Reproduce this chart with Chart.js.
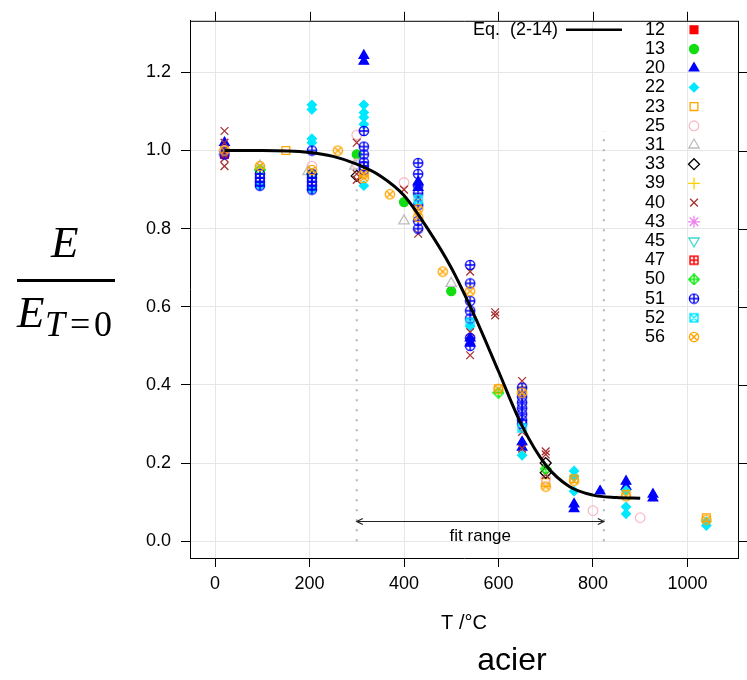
<!DOCTYPE html>
<html>
<head>
<meta charset="utf-8">
<script src="https://cdn.jsdelivr.net/npm/chart.js@4.4.0/dist/chart.umd.min.js"></script>
<style>
  html, body { margin: 0; padding: 0; background: #fff; }
  #wrap { width: 747px; height: 680px; }
</style>
</head>
<body>
<div id="wrap"><canvas id="chart" width="747" height="680"></canvas></div>
<script>
// readings [T (°C), E / E(T=0)] per test series
const s12 = [[20, 0.99]];
const s13 = [[300, 0.99], [400, 0.868], [500, 0.64]];
const s20 = [[20, 1.02], [20, 1.005], [315, 1.243], [315, 1.228], [430, 0.92], [430, 0.905],
  [540, 0.52], [540, 0.507], [650, 0.254], [650, 0.24], [760, 0.095], [760, 0.083],
  [815, 0.128], [870, 0.153], [870, 0.14], [927, 0.12], [927, 0.11]];
const s22 = [[95, 0.91], [205, 1.117], [205, 1.105], [205, 1.03], [205, 1.02], [205, 0.9],
  [315, 1.117], [315, 1.097], [315, 1.085], [315, 1.067], [315, 0.91], [540, 0.55],
  [650, 0.22], [760, 0.18], [760, 0.165], [760, 0.128], [870, 0.13], [870, 0.088],
  [870, 0.07], [1040, 0.04], [1040, 0.05]];
const s23 = [[20, 1.0], [150, 1.0], [600, 0.39], [650, 0.385], [700, 0.15], [760, 0.16],
  [870, 0.12], [1040, 0.06]];
const s25 = [[20, 1.0], [205, 0.96], [300, 1.04], [300, 0.966], [400, 0.918], [700, 0.2],
  [700, 0.16], [800, 0.078], [900, 0.06]];
const s31 = [[95, 0.96], [197, 0.946], [296, 0.96], [400, 0.82], [500, 0.66]];
const s33 = [[300, 0.935], [700, 0.2], [700, 0.175]];
const s39 = [];
const s40 = [[20, 1.05], [20, 1.02], [20, 0.98], [20, 0.96], [300, 1.02], [300, 0.94],
  [300, 0.925], [400, 0.9], [430, 0.88], [430, 0.787], [540, 0.69], [540, 0.535],
  [540, 0.476], [593, 0.586], [593, 0.578], [650, 0.41], [650, 0.28], [650, 0.237],
  [700, 0.23], [700, 0.222], [700, 0.17]];
const s43 = [];
const s45 = [];
const s47 = [];
const s50 = [[95, 0.95], [205, 0.94], [600, 0.38], [700, 0.185]];
const s51 = [[20, 0.99], [95, 0.94], [95, 0.93], [95, 0.92], [95, 0.91], [205, 1.0],
  [205, 0.94], [205, 0.93], [205, 0.92], [205, 0.91], [205, 0.9], [315, 1.05], [315, 1.01],
  [315, 0.99], [315, 0.97], [315, 0.96], [315, 0.95], [430, 0.968], [430, 0.94], [430, 0.91],
  [430, 0.89], [430, 0.86], [430, 0.82], [430, 0.8], [540, 0.707], [540, 0.66], [540, 0.615],
  [540, 0.59], [540, 0.57], [540, 0.52], [540, 0.5], [650, 0.393], [650, 0.37], [650, 0.355],
  [650, 0.34], [650, 0.325], [650, 0.31], [650, 0.3]];
const s52 = [[430, 0.875], [540, 0.56], [650, 0.29]];
const s56 = [[20, 1.0], [95, 0.96], [205, 0.95], [260, 1.0], [315, 0.94], [315, 0.93],
  [370, 0.888], [430, 0.85], [430, 0.83], [482, 0.69], [540, 0.64], [600, 0.39], [650, 0.38],
  [700, 0.14], [760, 0.155], [870, 0.115], [1040, 0.055]];

// Eq. (2-14) curve
const curveT = [20, 100, 200, 250, 300, 350, 400, 450, 500, 550, 600, 650, 700, 750, 800, 850, 900];
const curveE = [1.0, 1.0, 0.995, 0.985, 0.965, 0.935, 0.885, 0.8, 0.7, 0.575, 0.435, 0.295, 0.195, 0.14, 0.118, 0.112, 0.11];

const xTicks = [0, 200, 400, 600, 800, 1000];
const yTicks = [0, 0.2, 0.4, 0.6, 0.8, 1.0, 1.2];
const fitRange = [300, 823];
const guideTop = 1.05;

function markerCanvas(kind, color) {
  const c = document.createElement('canvas');
  c.width = 12; c.height = 12;
  const g = c.getContext('2d');
  g.strokeStyle = color;
  g.lineWidth = 1.4;
  const m = 6, r = 4.6, h = 4;
  g.beginPath();
  if (kind === 'circlePlus') {
    g.arc(m, m, r, 0, 2 * Math.PI);
    g.moveTo(m - r, m); g.lineTo(m + r, m);
    g.moveTo(m, m - r); g.lineTo(m, m + r);
  } else if (kind === 'circleX') {
    const d = r * Math.SQRT1_2;
    g.arc(m, m, r, 0, 2 * Math.PI);
    g.moveTo(m - d, m - d); g.lineTo(m + d, m + d);
    g.moveTo(m - d, m + d); g.lineTo(m + d, m - d);
  } else if (kind === 'squarePlus') {
    g.rect(m - h, m - h, 2 * h, 2 * h);
    g.moveTo(m - h, m); g.lineTo(m + h, m);
    g.moveTo(m, m - h); g.lineTo(m, m + h);
  } else if (kind === 'squareX') {
    g.rect(m - h, m - h, 2 * h, 2 * h);
    g.moveTo(m - h, m - h); g.lineTo(m + h, m + h);
    g.moveTo(m - h, m + h); g.lineTo(m + h, m - h);
  } else if (kind === 'diamondPlus') {
    const q = 5.2;
    g.moveTo(m, m - q); g.lineTo(m + q, m); g.lineTo(m, m + q); g.lineTo(m - q, m); g.closePath();
    g.moveTo(m - q, m); g.lineTo(m + q, m);
    g.moveTo(m, m - q); g.lineTo(m, m + q);
  }
  g.stroke();
  return c;
}

const series = [
  { name: '12', data: s12, style: 'rect', color: '#ff0000', fill: true, r: 5.5 },
  { name: '13', data: s13, style: 'circle', color: '#11dd11', fill: true, r: 4.5 },
  { name: '20', data: s20, style: 'triangle', color: '#0000ff', fill: true, r: 5.5 },
  { name: '22', data: s22, style: 'rectRot', color: '#00e8ff', fill: true, r: 4.5 },
  { name: '23', data: s23, style: 'rect', color: '#ffa500', fill: false, r: 5.5 },
  { name: '25', data: s25, style: 'circle', color: '#f7bcc8', fill: false, r: 4.8 },
  { name: '31', data: s31, style: 'triangle', color: '#bdbdbd', fill: false, r: 6 },
  { name: '33', data: s33, style: 'rectRot', color: '#000000', fill: false, r: 5.5 },
  { name: '39', data: s39, style: 'cross', color: '#ffd000', fill: false, r: 6 },
  { name: '40', data: s40, style: 'crossRot', color: '#a83232', fill: false, r: 5.5 },
  { name: '43', data: s43, style: 'star', color: '#ee82ee', fill: false, r: 6 },
  { name: '45', data: s45, style: 'triangle', color: '#40d8d0', fill: false, r: 6, rot: 180 },
  { name: '47', data: s47, style: markerCanvas('squarePlus', '#ff0000'), color: '#ff0000' },
  { name: '50', data: s50, style: markerCanvas('diamondPlus', '#11ee11'), color: '#11ee11' },
  { name: '51', data: s51, style: markerCanvas('circlePlus', '#0000ff'), color: '#0000ff' },
  { name: '52', data: s52, style: markerCanvas('squareX', '#00e8ff'), color: '#00e8ff' },
  { name: '56', data: s56, style: markerCanvas('circleX', '#ffa500'), color: '#ffa500' }
];

const datasets = [{
  label: 'Eq. (2-14)',
  data: curveT.map((t, i) => ({ x: t, y: curveE[i] })),
  borderColor: '#000',
  borderWidth: 3,
  pointRadius: 0,
  cubicInterpolationMode: 'monotone',
  order: 0
}];

series.forEach((s, k) => {
  datasets.push({
    label: s.name,
    data: s.data.map(p => ({ x: p[0], y: p[1] })),
    showLine: false,
    pointStyle: s.style,
    pointRadius: s.r || 6,
    pointRotation: s.rot || 0,
    pointBackgroundColor: s.fill ? s.color : 'rgba(0,0,0,0)',
    pointBorderColor: s.color,
    pointBorderWidth: 1.3,
    order: 40 - k
  });
});

fitRange.forEach(t => {
  datasets.push({
    label: 'fit ' + t,
    data: [{ x: t, y: 0 }, { x: t, y: guideTop }],
    borderColor: '#a9b6c6',
    borderWidth: 2,
    borderDash: [2, 8],
    pointRadius: 0,
    order: 80
  });
});

const tickFont = { family: 'Liberation Sans, Arial, sans-serif', size: 18 };

const decor = {
  id: 'decor',
  afterDraw(chart) {
    const ctx = chart.ctx;
    const a = chart.chartArea;
    const xs = chart.scales.x, ys = chart.scales.y;
    ctx.save();

    // top / right frame with outward ticks
    ctx.strokeStyle = '#000';
    ctx.lineWidth = 1;
    ctx.beginPath();
    ctx.moveTo(a.left, a.top + 0.5); ctx.lineTo(a.right + 0.5, a.top + 0.5);
    ctx.moveTo(a.right + 0.5, a.top); ctx.lineTo(a.right + 0.5, a.bottom);
    xTicks.forEach(v => {
      const px = Math.round(xs.getPixelForValue(v)) + 0.5;
      ctx.moveTo(px, a.top); ctx.lineTo(px, a.top - 9);
    });
    yTicks.forEach(v => {
      const py = Math.round(ys.getPixelForValue(v)) + 0.5;
      ctx.moveTo(a.right, py); ctx.lineTo(a.right + 9, py);
    });
    ctx.stroke();

    // fit range arrow
    const x1 = xs.getPixelForValue(fitRange[0]), x2 = xs.getPixelForValue(fitRange[1]);
    const ay = Math.round(ys.getPixelForValue(0.052)) + 0.5;
    ctx.strokeStyle = '#222';
    ctx.lineWidth = 1.2;
    ctx.beginPath();
    ctx.moveTo(x1, ay); ctx.lineTo(x2, ay);
    ctx.moveTo(x1 + 6, ay - 3); ctx.lineTo(x1, ay); ctx.lineTo(x1 + 6, ay + 3);
    ctx.moveTo(x2 - 6, ay - 3); ctx.lineTo(x2, ay); ctx.lineTo(x2 - 6, ay + 3);
    ctx.stroke();
    ctx.fillStyle = '#000';
    ctx.font = '17px Liberation Sans, Arial, sans-serif';
    ctx.textAlign = 'center';
    ctx.textBaseline = 'middle';
    ctx.fillText('fit range', (x1 + x2) / 2, ys.getPixelForValue(0.012));

    // legend
    const rowH = 19.2, top = a.top + 9;
    ctx.font = '18px Liberation Sans, Arial, sans-serif';
    ctx.textAlign = 'right';
    ctx.fillText('Eq.  (2-14)', a.right - 180, top);
    ctx.strokeStyle = '#000';
    ctx.lineWidth = 2.5;
    ctx.beginPath();
    ctx.moveTo(a.right - 172, top); ctx.lineTo(a.right - 116, top);
    ctx.stroke();
    const drawPoint = Chart.helpers && Chart.helpers.drawPoint;
    series.forEach((s, i) => {
      const y = top + i * rowH;
      ctx.fillStyle = '#000';
      ctx.fillText(s.name, a.right - 73, y);
      const mx = a.right - 44;
      if (typeof s.style === 'object') {
        ctx.drawImage(s.style, mx - s.style.width / 2, y - s.style.height / 2);
      } else if (drawPoint) {
        ctx.fillStyle = s.fill ? s.color : 'rgba(0,0,0,0)';
        ctx.strokeStyle = s.color;
        ctx.lineWidth = 1.3;
        drawPoint(ctx, { pointStyle: s.style, radius: s.r, rotation: s.rot || 0, borderWidth: 1.3 }, mx, y);
      }
    });

    // axis titles
    ctx.fillStyle = '#000';
    ctx.textAlign = 'center';
    ctx.textBaseline = 'alphabetic';
    ctx.font = '20px Liberation Sans, Arial, sans-serif';
    ctx.fillText('T /°C', (a.left + a.right) / 2, 629);
    ctx.font = '32px Liberation Sans, Arial, sans-serif';
    ctx.fillText('acier', 512, 670);

    // E / E_{T=0}
    ctx.textAlign = 'left';
    ctx.font = 'italic 45px Liberation Serif, Times New Roman, serif';
    ctx.fillText('E', 51, 257);
    ctx.fillText('E', 17, 327);
    ctx.font = 'italic 36px Liberation Serif, Times New Roman, serif';
    ctx.fillText('T', 45, 336);
    ctx.font = '36px Liberation Serif, Times New Roman, serif';
    ctx.fillText('=', 70, 336);
    ctx.fillText('0', 94, 336);
    ctx.fillRect(17, 279, 98, 3);

    ctx.restore();
  }
};

new Chart(document.getElementById('chart').getContext('2d'), {
  type: 'line',
  data: { datasets: datasets },
  options: {
    responsive: false,
    animation: false,
    devicePixelRatio: 1,
    layout: { padding: { top: 12, right: 9, left: 0, bottom: 0 } },
    plugins: { legend: { display: false }, tooltip: { enabled: false } },
    scales: {
      x: {
        type: 'linear',
        min: -53,
        max: 1107,
        afterBuildTicks: s => { s.ticks = xTicks.map(v => ({ value: v })); },
        afterFit: s => { s.height = 122; },
        ticks: { font: tickFont, color: '#000', padding: 6, maxRotation: 0, autoSkip: false, callback: v => String(v) },
        grid: { color: '#e6e6e6', tickColor: '#000', tickLength: 9 },
        border: { color: '#000', width: 1 }
      },
      y: {
        type: 'linear',
        min: -0.043,
        max: 1.332,
        afterBuildTicks: s => { s.ticks = yTicks.map(v => ({ value: v })); },
        afterFit: s => { s.width = 190; },
        ticks: { font: tickFont, color: '#000', padding: 10, autoSkip: false, callback: v => v.toFixed(1) },
        grid: { color: '#e6e6e6', tickColor: '#000', tickLength: 9 },
        border: { color: '#000', width: 1 }
      }
    }
  },
  plugins: [decor]
});
</script>
</body>
</html>
